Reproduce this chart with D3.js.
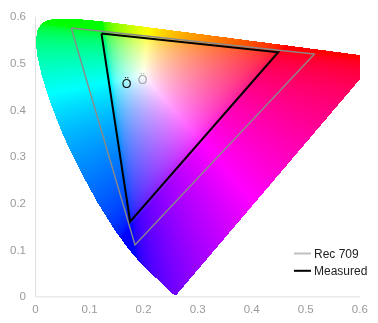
<!DOCTYPE html>
<html>
<head>
<meta charset="utf-8">
<script src="https://cdn.jsdelivr.net/npm/d3@7"></script>
<style>
html,body{margin:0;padding:0;background:#fff;}
#wrap{position:relative;width:378px;height:323px;overflow:hidden;}
canvas,svg{position:absolute;left:0;top:0;}
</style>
</head>
<body>
<div id="wrap"><canvas id="cv" width="378" height="323"></canvas><svg id="sv" width="378" height="323"></svg></div>
<script>
// CIE 1931 spectral locus (x, y chromaticity), 380–700 nm
const locusWavelengths = [380,390,400,410,420,425,430,435,440,445,450,455,460,465,470,475,480,485,490,495,500,505,510,515,520,525,530,535,540,545,550,555,560,565,570,575,580,585,590,595,600,605,610,615,620,625,630,640,650,660,670,680,700];
const locusX = [0.1741,0.1738,0.1733,0.1726,0.1714,0.1703,0.1689,0.1669,0.1644,0.1611,0.1566,0.1510,0.1440,0.1355,0.1241,0.1096,0.0913,0.0687,0.0454,0.0235,0.0082,0.0039,0.0139,0.0389,0.0743,0.1142,0.1547,0.1929,0.2296,0.2658,0.3016,0.3373,0.3731,0.4087,0.4441,0.4788,0.5125,0.5448,0.5752,0.6029,0.6270,0.6482,0.6658,0.6801,0.6915,0.7006,0.7079,0.7190,0.7260,0.7300,0.7320,0.7334,0.7347];
const locusY = [0.0050,0.0049,0.0048,0.0048,0.0051,0.0058,0.0069,0.0086,0.0109,0.0138,0.0177,0.0227,0.0297,0.0399,0.0578,0.0868,0.1327,0.2007,0.2950,0.4127,0.5384,0.6548,0.7502,0.8120,0.8338,0.8262,0.8059,0.7816,0.7543,0.7243,0.6923,0.6589,0.6245,0.5896,0.5547,0.5202,0.4866,0.4544,0.4242,0.3965,0.3725,0.3514,0.3340,0.3197,0.3083,0.2993,0.2920,0.2809,0.2740,0.2700,0.2680,0.2666,0.2653];

// Gamut triangles (u', v'): order G, R, B
const rec709U = [0.067, 0.517, 0.185];
const rec709V = [0.575, 0.519, 0.110];
const measuredU = [0.123, 0.450, 0.176];
const measuredV = [0.563, 0.523, 0.160];

// White points (u', v')
const whiteLabels = ["Measured", "Rec 709"];
const whiteU = [0.1696, 0.1989];
const whiteV = [0.457, 0.4646];

const xTicks = [0, 0.1, 0.2, 0.3, 0.4, 0.5, 0.6];
const yTicks = [0, 0.1, 0.2, 0.3, 0.4, 0.5, 0.6];
const legendLabels = ["Rec 709", "Measured"];

// scales
const x = d3.scaleLinear().domain([0, 0.6]).range([35, 359.3]);
const y = d3.scaleLinear().domain([0, 0.6]).range([296.3, 16.3]);
// the colour image is drawn slightly stretched relative to the axes
const xFill = d3.scaleLinear().domain([0, 0.6]).range([35, 35 + 0.6 * 551]);
const yFill = d3.scaleLinear().domain([0, 0.6]).range([302.8, 302.8 - 0.6 * 484.4]);

function xyToUv(px, py) {
  const d = -2 * px + 12 * py + 3;
  return [4 * px / d, 9 * py / d];
}
const locusUV = locusX.map((v, i) => xyToUv(v, locusY[i]));

function uvToRGB(u, v) {
  const d = 6 * u - 16 * v + 12;
  const cx = 9 * u / d, cy = 4 * v / d;
  const X = cx / cy, Y = 1, Z = (1 - cx - cy) / cy;
  let r = 3.2406 * X - 1.5372 * Y - 0.4986 * Z;
  let g = -0.9689 * X + 1.8758 * Y + 0.0415 * Z;
  let b = 0.0557 * X - 0.2040 * Y + 1.0570 * Z;
  r = Math.max(r, 0); g = Math.max(g, 0); b = Math.max(b, 0);
  const m = Math.max(r, g, b) || 1;
  const gam = c => { c = c / m; return c <= 0.0031308 ? 12.92 * c : 1.055 * Math.pow(c, 1 / 2.4) - 0.055; };
  return [gam(r) * 255, gam(g) * 255, gam(b) * 255];
}

// draw colour fill
const cv = document.getElementById("cv");
const ctx = cv.getContext("2d");
const img = ctx.createImageData(378, 323);
const x0 = Math.floor(x(0)), x1 = Math.floor(x(0.6)), yTop = 0, yBot = Math.floor(y(0));
for (let py = yTop; py <= yBot; py++) {
  for (let px = x0; px <= x1; px++) {
    const u = xFill.invert(px + 0.5), v = yFill.invert(py + 0.5);
    if (!d3.polygonContains(locusUV, [u, v])) continue;
    const c = uvToRGB(u, v);
    const k = (py * 378 + px) * 4;
    img.data[k] = c[0]; img.data[k + 1] = c[1]; img.data[k + 2] = c[2]; img.data[k + 3] = 255;
  }
}
ctx.putImageData(img, 0, 0);

const svg = d3.select("#sv");
const font = "'Liberation Sans', Arial, Helvetica, sans-serif";

// axes
const xAxis = d3.axisBottom(x).tickValues(xTicks).tickFormat(d3.format("")).tickSize(0).tickPadding(9);
const gx = svg.append("g").attr("transform", `translate(0,${y(0)})`).call(xAxis);
const yAxis = d3.axisLeft(y).tickValues(yTicks).tickFormat(d3.format("")).tickSize(0).tickPadding(9);
const gy = svg.append("g").attr("transform", `translate(${x(0)},0)`).call(yAxis);
[gx, gy].forEach(g => {
  g.select(".domain").attr("stroke", "#e0e0e0").attr("stroke-width", 1);
  g.selectAll("text").attr("fill", "#9a9a9a").attr("font-size", 11.5).attr("font-family", font);
});

// triangles
const line = d3.line().x(d => x(d[0])).y(d => y(d[1]));
const tri = (us, vs) => us.map((u, i) => [u, vs[i]]).concat([[us[0], vs[0]]]);
svg.append("path").attr("d", line(tri(rec709U, rec709V)))
  .attr("fill", "none").attr("stroke", "#8a8a8a").attr("stroke-width", 1.4).attr("stroke-linejoin", "miter");
svg.append("path").attr("d", line(tri(measuredU, measuredV)))
  .attr("fill", "none").attr("stroke", "#000").attr("stroke-width", 2).attr("stroke-linejoin", "miter");

// white points
const wpColors = ["#111", "#a8a8a8"];
svg.selectAll("text.wp").data(whiteU).enter().append("text")
  .attr("class", "wp")
  .attr("x", (d) => x(d))
  .attr("y", (d, i) => y(whiteV[i]))
  .attr("dy", "0.36em")
  .attr("text-anchor", "middle")
  .attr("font-size", 12.5)
  .attr("font-family", font)
  .attr("fill", (d, i) => wpColors[i])
  .text("Ö");

// legend
const legColors = ["#c0c0c0", "#000"];
const leg = svg.append("g");
legendLabels.forEach((lab, i) => {
  const ly = 253.5 + i * 17.3;
  leg.append("line").attr("x1", 294).attr("x2", 311).attr("y1", ly).attr("y2", ly)
    .attr("stroke", legColors[i]).attr("stroke-width", 2);
  leg.append("text").attr("x", 314).attr("y", ly + 4.3).attr("font-size", 12)
    .attr("font-family", font).attr("fill", "#222").text(lab);
});
</script>
</body>
</html>
